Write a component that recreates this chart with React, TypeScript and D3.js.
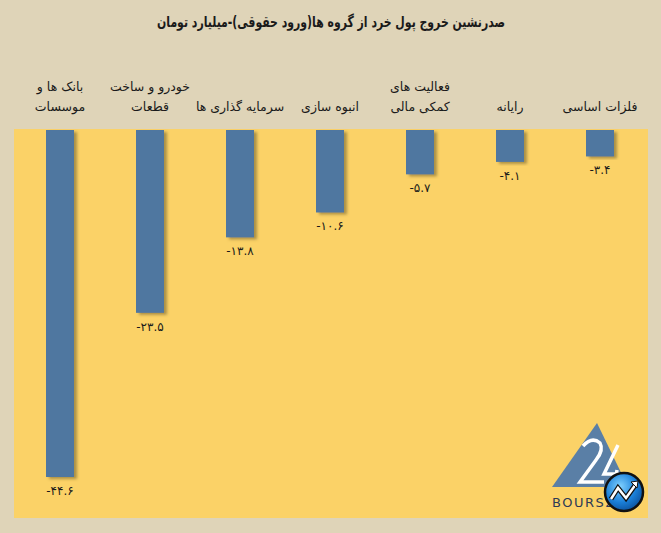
import React from "react";
import * as d3 from "d3";

const categories: string[][] = [
  ["بانک ها و", "موسسات"],
  ["خودرو و ساخت", "قطعات"],
  ["سرمایه گذاری ها"],
  ["انبوه سازی"],
  ["فعالیت های", "کمکی مالی"],
  ["رایانه"],
  ["فلزات اساسی"],
];
const values: number[] = [-44.6, -23.5, -13.8, -10.6, -5.7, -4.1, -3.4];
const valueLabels: string[] = ["-۴۴.۶", "-۲۳.۵", "-۱۳.۸", "-۱۰.۶", "-۵.۷", "-۴.۱", "-۳.۴"];
const title = "صدرنشین خروج پول خرد از گروه ها(ورود حقوقی)-میلیارد تومان";

const W = 661;
const H = 533;
const font = "'DejaVu Sans', sans-serif";

export default function App() {
  const idx = categories.map((_, i) => String(i));
  const x = d3.scaleBand<string>().domain(idx).range([15, 645]).paddingInner(0.689).paddingOuter(0.3445);
  const y = d3.scaleLinear().domain([0, -44.6]).range([130, 477]);

  return (
    <svg width={W} height={H} style={{ position: "absolute", left: 0, top: 0 }}>
      <defs>
        <filter id="sh" x="-20%" y="-5%" width="160%" height="115%">
          <feDropShadow dx="3" dy="2" stdDeviation="1.5" floodColor="#6b5a2a" floodOpacity="0.55" />
        </filter>
        <radialGradient id="cg" cx="40%" cy="35%" r="70%">
          <stop offset="0%" stopColor="#7fd0ff" />
          <stop offset="60%" stopColor="#1a7fd8" />
          <stop offset="100%" stopColor="#0b4f9a" />
        </radialGradient>
      </defs>
      <rect x={0} y={0} width={W} height={H} fill="#dfd4b8" />
      <rect x={14} y={129} width={634} height={389} fill="#fbd267" />
      <text x={331} y={27} textAnchor="middle" fontFamily={font} fontWeight="bold" fontSize={15} fill="#1a1a1a" direction="rtl" textLength={348} lengthAdjust="spacingAndGlyphs">
        {title}
      </text>
      {values.map((v, i) => {
        const cx = (x(String(i)) as number) + x.bandwidth() / 2;
        const y0 = y(0);
        const y1 = y(v);
        const lines = categories[i];
        return (
          <g key={i}>
            <rect x={x(String(i))} y={y0} width={x.bandwidth()} height={y1 - y0} fill="#4f77a0" filter="url(#sh)" />
            <text x={cx} y={y1 + 18} textAnchor="middle" fontFamily={font} fontSize={12} fill="#1a1a1a">
              {valueLabels[i]}
            </text>
            {lines.map((ln, j) => (
              <text
                key={j}
                x={cx}
                y={111 - (lines.length - 1 - j) * 20}
                textAnchor="middle"
                fontFamily={font}
                fontSize={12.5}
                fill="#1a1a1a"
                direction="rtl"
              >
                {ln}
              </text>
            ))}
          </g>
        );
      })}
      {/* logo */}
      <g>
        <path d="M597,423 L628,487 L552,487 Z" fill="#5a7fa6" />
        <path d="M583,446 Q592,436 600,443 Q604,450 596,460 L580,482 L604,482" fill="none" stroke="#ffffff" strokeWidth={3.5} />
        <path d="M618,445 L604,474 L627,474 M617,470 L614,487" fill="none" stroke="#ffffff" strokeWidth={3.5} />
        <text x={552} y={507} fontFamily={font} fontSize={13} fill="#2e3a55" letterSpacing="1.5">BOURS24</text>
        <circle cx={624} cy={492} r={19} fill="url(#cg)" stroke="#111" strokeWidth={2.5} />
        <path d="M611,499 L618,488 L626,498 L636,484" fill="none" stroke="#111" strokeWidth={5} />
        <path d="M611,499 L618,488 L626,498 L636,484" fill="none" stroke="#fff" strokeWidth={2.5} />
        <path d="M631,482 L638,481 L637,488 Z" fill="#fff" stroke="#111" strokeWidth={1} />
      </g>
    </svg>
  );
}
